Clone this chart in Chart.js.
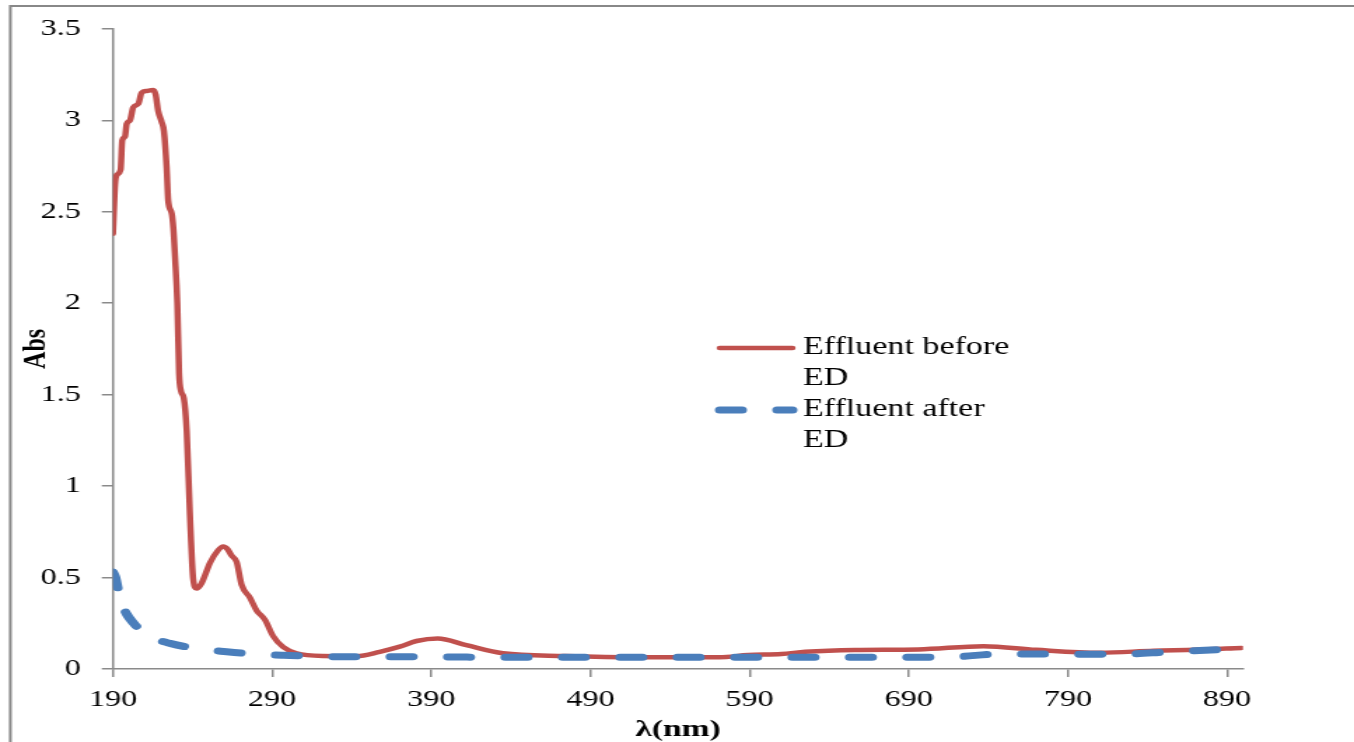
<!DOCTYPE html>
<html>
<head>
<meta charset="utf-8">
<script src="https://cdn.jsdelivr.net/npm/chart.js@4.4.1/dist/chart.umd.min.js"></script>
<style>
  html, body { margin: 0; padding: 0; background: #fff; overflow: hidden; }
  /* the original picture is stretched sideways, so the whole chart is too */
  #wrap { width: 967px; height: 742px; transform: scaleX(1.40021); transform-origin: 0 0; }
</style>
</head>
<body>
<div id="wrap"><canvas id="grafico" width="967" height="742"></canvas></div>
<script>
// wavelength (nm) / absorbance
const beforeX = [190, 191.3, 192.3, 194.8, 195.8, 197.5, 198.6, 200.7, 202.7, 205.9, 208, 211.2, 215.3, 216.8, 218.4, 220.6, 222, 223.7, 224.7, 226.9, 227.9, 229, 230.4, 231.5, 232.7, 234.5, 236.3, 238.3, 240.4, 242.5, 245.7, 250.9, 256.1, 259.2, 262, 264.5, 267.7, 270.8, 276, 280.2, 285.4, 290.6, 296.9, 305.3, 322, 343, 357.6, 370.2, 380.7, 394, 412, 435, 474, 521, 571, 589, 610, 625, 656, 696, 737, 770, 810, 844, 870, 899];
const beforeY = [2.38, 2.65, 2.70, 2.73, 2.89, 2.91, 2.98, 3.00, 3.07, 3.09, 3.15, 3.16, 3.165, 3.14, 3.05, 2.99, 2.94, 2.74, 2.56, 2.49, 2.41, 2.25, 2.00, 1.62, 1.52, 1.48, 1.30, 0.85, 0.49, 0.44, 0.47, 0.58, 0.65, 0.67, 0.655, 0.62, 0.585, 0.46, 0.39, 0.32, 0.27, 0.18, 0.12, 0.086, 0.071, 0.07, 0.094, 0.122, 0.153, 0.167, 0.13, 0.086, 0.071, 0.064, 0.064, 0.076, 0.082, 0.094, 0.104, 0.107, 0.125, 0.105, 0.089, 0.10, 0.105, 0.115];

const afterX = [190, 191.5, 193.3, 196, 198.6, 203, 207, 215, 225.8, 241.5, 261.4, 278, 297, 315.7, 332.5, 370, 400, 430, 470, 530, 600, 680, 720, 746, 783, 818, 855, 892, 900];
const afterY = [0.53, 0.50, 0.43, 0.35, 0.30, 0.25, 0.213, 0.17, 0.14, 0.113, 0.094, 0.082, 0.075, 0.071, 0.067, 0.067, 0.066, 0.064, 0.064, 0.064, 0.064, 0.064, 0.067, 0.082, 0.082, 0.08, 0.094, 0.109, 0.113];

const seriesNames = ['Effluent before ED', 'Effluent after ED'];
const xTicks = [190, 290, 390, 490, 590, 690, 790, 890];
const yTicks = [0, 0.5, 1, 1.5, 2, 2.5, 3, 3.5];
const yTickLabels = ['0', '0.5', '1', '1.5', '2', '2.5', '3', '3.5'];

const serif = '"Liberation Serif", "DejaVu Serif", serif';
const cinza = '#8a8a8a';
const vermelho = '#C0504D';
const azul = '#4A7EBB';

// grey frame on top and left, like the pasted picture
const moldura = {
    id: 'moldura',
    beforeDraw(chart) {
        const ctx = chart.ctx;
        ctx.save();
        ctx.strokeStyle = '#888';
        ctx.lineWidth = 2;
        ctx.beginPath();
        ctx.moveTo(7.4, 760);
        ctx.lineTo(7.4, 6);
        ctx.lineTo(1000, 6);
        ctx.stroke();
        ctx.restore();
    }
};

// legend sits inside the plot, labels wrap onto two lines
const legenda = {
    id: 'legenda',
    afterDraw(chart) {
        const ctx = chart.ctx;
        const x0 = 514, x1 = 566, xt = 573.5;
        const linhas = [348, 410];
        ctx.save();
        chart.data.datasets.forEach((ds, i) => {
            const y = linhas[i];
            ctx.beginPath();
            ctx.strokeStyle = ds.borderColor;
            ctx.lineWidth = ds.borderWidth;
            ctx.lineCap = 'round';
            ctx.setLineDash(ds.borderDash || []);
            ctx.moveTo(x0, y);
            ctx.lineTo(x1, y);
            ctx.stroke();
            ctx.setLineDash([]);

            const palavras = ds.label.split(' ');
            const ultima = palavras.pop();
            ctx.fillStyle = '#000';
            ctx.font = '24.3px ' + serif;
            ctx.textBaseline = 'middle';
            ctx.textAlign = 'left';
            ctx.fillText(palavras.join(' '), xt, y);
            ctx.fillText(ultima, xt, y + 31);
        });
        ctx.restore();
    }
};

const ctx = document.getElementById('grafico').getContext('2d');
new Chart(ctx, {
    type: 'line',
    data: {
        datasets: [{
            label: seriesNames[0],
            data: beforeX.map((x, i) => ({ x: x, y: beforeY[i] })),
            borderColor: vermelho,
            borderWidth: 4.5,
            pointRadius: 0,
            fill: false,
            cubicInterpolationMode: 'monotone',
            borderCapStyle: 'round',
            borderJoinStyle: 'round',
            order: 1
        }, {
            label: seriesNames[1],
            data: afterX.map((x, i) => ({ x: x, y: afterY[i] })),
            borderColor: azul,
            borderWidth: 7,
            borderDash: [16, 25],
            pointRadius: 0,
            fill: false,
            cubicInterpolationMode: 'monotone',
            borderCapStyle: 'round',
            borderJoinStyle: 'round',
            order: 0
        }]
    },
    options: {
        responsive: false,
        animation: false,
        events: [],
        layout: { padding: { top: 27, right: 79.3, bottom: 0, left: 0 } },
        plugins: {
            legend: { display: false },
            tooltip: { enabled: false }
        },
        scales: {
            x: {
                type: 'linear',
                min: 190,
                max: 900,
                afterBuildTicks: s => { s.ticks = xTicks.map(v => ({ value: v })); },
                afterFit: s => { s.height = 73; },
                grid: { drawOnChartArea: false, drawTicks: true, tickLength: 8, color: cinza, lineWidth: 1.5 },
                border: { color: cinza, width: 1.5 },
                ticks: {
                    font: { family: serif, size: 23 },
                    color: '#000',
                    padding: 9,
                    maxRotation: 0,
                    autoSkip: false,
                    callback: v => String(v)
                },
                title: {
                    display: true,
                    text: 'λ(nm)',
                    color: '#000',
                    font: { family: serif, size: 24, weight: 'bold', lineHeight: 1 },
                    padding: 0
                }
            },
            y: {
                min: 0,
                max: 3.5,
                afterBuildTicks: s => { s.ticks = yTicks.map(v => ({ value: v })); },
                afterFit: s => { s.width = 80.7; },
                grid: { drawOnChartArea: false, drawTicks: true, tickLength: 8, color: cinza, lineWidth: 1.5 },
                border: { color: cinza, width: 1.5 },
                ticks: {
                    font: { family: serif, size: 23 },
                    color: '#000',
                    padding: 15,
                    autoSkip: false,
                    callback: (v, i) => yTickLabels[i]
                },
                title: {
                    display: true,
                    text: 'Abs',
                    color: '#000',
                    font: { family: serif, size: 24, weight: 'bold', lineHeight: 1 },
                    padding: { top: 13.7, bottom: 0 }
                }
            }
        }
    },
    plugins: [moldura, legenda]
});
</script>
</body>
</html>
